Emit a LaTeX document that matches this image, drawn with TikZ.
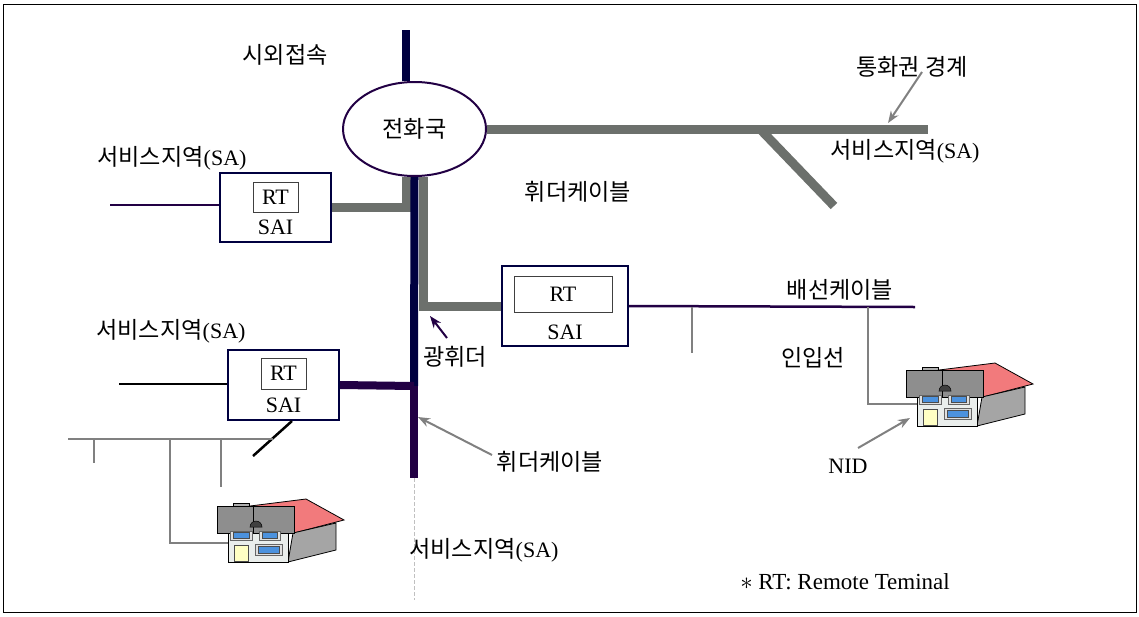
\documentclass[tikz,border=0pt]{standalone}
\usepackage{fontspec}
\setmainfont{Liberation Serif}
\newfontfamily\kr{Noto Sans CJK KR}[Scale=1.05]
\usetikzlibrary{arrows.meta,shapes.geometric,backgrounds}

\definecolor{navy}{RGB}{0,0,64}
\definecolor{plum}{RGB}{34,0,68}
\definecolor{feedgray}{RGB}{108,112,108}
\definecolor{dropgray}{RGB}{128,128,128}
\definecolor{roofpink}{RGB}{242,122,124}
\definecolor{blockgray}{RGB}{142,142,142}
\definecolor{sidegray}{RGB}{165,165,165}
\definecolor{chimgray}{RGB}{176,176,176}
\definecolor{frontwall}{RGB}{234,238,236}
\definecolor{winblue}{RGB}{76,146,222}
\definecolor{doorcream}{RGB}{255,255,196}
\definecolor{domegray}{RGB}{64,64,64}

\tikzset{
  lbl/.style={font=\fontsize{22}{25}\selectfont, inner sep=0pt},
  saibox/.style={draw=navy, line width=2pt, fill=white, inner sep=0pt},
  rtbox/.style={draw=black!75, line width=0.8pt, inner sep=0pt},
  fiber/.style={navy, line width=8pt},
  fiberlow/.style={plum, line width=8pt},
  feeder/.style={feedgray, line width=9pt},
  dist/.style={plum, line width=2pt},
  drop/.style={dropgray, line width=2pt},
  callout/.style={dropgray, line width=2pt, -{Stealth[length=12pt,width=9pt]}},
  home/.pic={
    % chimney
    \filldraw[fill=chimgray, draw=black, line width=0.5pt] (16,-3) rectangle (32,1);
    % pitched roof seen from the side
    \filldraw[fill=roofpink, draw=black, line width=0.8pt]
      (33,0) -- (89,-7) -- (127,14) -- (77,27) -- cycle;
    % side wall
    \filldraw[fill=sidegray, draw=black, line width=0.8pt]
      (76,27) -- (119,17) -- (119,44) -- (71,56) -- cycle;
    % front wall
    \filldraw[fill=frontwall, draw=black, line width=0.8pt] (11,27) rectangle (71,56);
    % front gable block
    \filldraw[fill=blockgray, draw=black, line width=0.8pt] (0,0) rectangle (77,27);
    \draw[line width=0.6pt] (36,0) -- (36,27);
    \filldraw[fill=domegray, draw=black, line width=0.5pt]
      (33,21) arc[start angle=180, end angle=360, radius=6] -- cycle;
    % windows
    \filldraw[fill=white!88!black, draw=black!60, line width=0.4pt] (13,25) rectangle (35,34);
    \filldraw[fill=winblue, draw=black!70, line width=0.5pt] (16,26) rectangle (32,32);
    \filldraw[fill=white!88!black, draw=black!60, line width=0.4pt] (42,25) rectangle (63,34);
    \filldraw[fill=winblue, draw=black!70, line width=0.5pt] (45,26) rectangle (60,32);
    \filldraw[fill=white!88!black, draw=black!60, line width=0.4pt] (38,38) rectangle (65,49);
    \filldraw[fill=winblue, draw=black!70, line width=0.5pt] (41,40) rectangle (62,47);
    % door
    \filldraw[fill=doorcream, draw=black!70, line width=0.5pt] (17,39) rectangle (31,55);
  }
}

\begin{document}
\begin{tikzpicture}[x=1pt, y=-1pt]
\useasboundingbox (0,0) rectangle (1139,616);
\draw[line width=0.8pt] (3,4) rectangle (1136,612);

% central office and remote terminal cabinets
\node[draw=plum, line width=2pt, fill=white, ellipse, minimum width=143pt, minimum height=94pt,
      inner sep=0pt, font=\fontsize{22}{25}\selectfont] (co) at (414.5,129) {\kr 전화국};

\node[saibox, minimum width=111pt, minimum height=69pt] (sai1) at (275.5,207.5) {};
\node[rtbox, minimum width=45pt, minimum height=30pt, lbl] (rt1) at (275.5,197) {RT};
\node[lbl] (sail1) at (275.5,227) {SAI};

\node[saibox, minimum width=126pt, minimum height=80pt] (sai2) at (565,306) {};
\node[rtbox, minimum width=98pt, minimum height=36pt, lbl] (rt2) at (563,294) {RT};
\node[lbl] (sail2) at (565,332) {SAI};

\node[saibox, minimum width=111pt, minimum height=70pt] (sai3) at (283.5,385) {};
\node[rtbox, minimum width=45pt, minimum height=31pt, lbl] (rt3) at (283.5,373.5) {RT};
\node[lbl] (sail3) at (283.5,405) {SAI};

% free ends and junctions
\coordinate (toll) at (406,30);
\coordinate (trunkend) at (928,129);
\coordinate (branchA) at (760,129);
\coordinate (branchB) at (834,206);
\coordinate (mj) at (414,386);
\coordinate (fbot) at (414,478);
\coordinate (fdot) at (414,600);
\coordinate (l1) at (110,205);
\coordinate (l3) at (119,384);
\coordinate (d2end) at (915,307);
\coordinate (tapA) at (692,307);
\coordinate (tapAend) at (692,353);
\coordinate (tapB) at (868,307);
\coordinate (homeB) at (917,404);
\coordinate (diagA) at (292,421);
\coordinate (diagB) at (253,456);
\coordinate (gl) at (68,439);
\coordinate (gr) at (273,439);
\coordinate (g1) at (94,439);
\coordinate (g1e) at (94,463);
\coordinate (g2) at (170,439);
\coordinate (homeA) at (228,543);
\coordinate (g3) at (221,439);
\coordinate (g3e) at (221,487);

\begin{pgfonlayer}{background}
  \draw[fiber] (toll) -- (toll |- co.north);
  \draw[feeder] (co.east) -- (trunkend);
  \draw[feeder] (branchA) -- (branchB);
  \draw[feeder] ([xshift=-8pt]co.south) |- (sai1.east);
  \draw[feeder] ([xshift=9pt]co.south) |- (sai2.west);
  \draw[fiber] (co.south) -- (mj);
  \draw[fiberlow] (mj) -- (fbot);
  \draw[fiberlow] (sai3.east) -- (mj);
  \draw[dropgray!50, line width=0.8pt, dash pattern=on 4pt off 2pt] (fbot) -- (fdot);
\end{pgfonlayer}

% distribution side
\draw[dist] (l1) -- (l1 -| sai1.west);
\draw[black, line width=2.5pt] (l3) -- (l3 -| sai3.west);
\draw[dist, line width=2.5pt] (sai2.east) -- (d2end);
\draw[drop] (tapA) -- (tapAend);
\draw[drop] (tapB) |- (homeB);
\draw[black, line width=2.5pt] (diagA) -- (diagB);
\draw[drop] (gl) -- (gr);
\draw[drop] (g1) -- (g1e);
\draw[drop] (g2) |- (homeA);
\draw[drop] (g3) -- (g3e);

% subscriber premises
\pic at (217,506) {home};
\pic at (906,370) {home};

% labels
\node[lbl] (tToll) at (285,55) {\kr 시외접속};
\node[lbl] (tSA1) at (172,158) {{\kr 서비스지역}(SA)};
\node[lbl] (tSA2) at (171,331) {{\kr 서비스지역}(SA)};
\node[lbl] (tSA3) at (905,151) {{\kr 서비스지역}(SA)};
\node[lbl] (tSA4) at (484,550) {{\kr 서비스지역}(SA)};
\node[lbl] (tBound) at (912,67) {\kr 통화권 경계};
\node[lbl] (tFeedA) at (578,192) {\kr 휘더케이블};
\node[lbl] (tFeedB) at (550,462) {\kr 휘더케이블};
\node[lbl] (tFiber) at (455,357) {\kr 광휘더};
\node[lbl] (tDist) at (840,290) {\kr 배선케이블};
\node[lbl] (tDrop) at (813,358) {\kr 인입선};
\node[lbl] (tNID) at (848,466) {NID};
\node[lbl, font=\fontsize{23}{26}\selectfont] (tNote) at (845,582) {$\ast$ RT: Remote Teminal};

% call-out arrows
\coordinate (aBoundT) at (922,72);
\coordinate (aBoundH) at (888,123);
\coordinate (aFibT) at (447,338);
\coordinate (aFibH) at (430,316);
\coordinate (aFeedT) at (492,455);
\coordinate (aFeedH) at (418,417);
\coordinate (aNidT) at (858,448);
\coordinate (aNidH) at (910,418);
\draw[callout] (aBoundT) -- (aBoundH);
\draw[callout, plum] (aFibT) -- (aFibH);
\draw[callout] (aFeedT) -- (aFeedH);
\draw[callout] (aNidT) -- (aNidH);
\end{tikzpicture}
\end{document}
